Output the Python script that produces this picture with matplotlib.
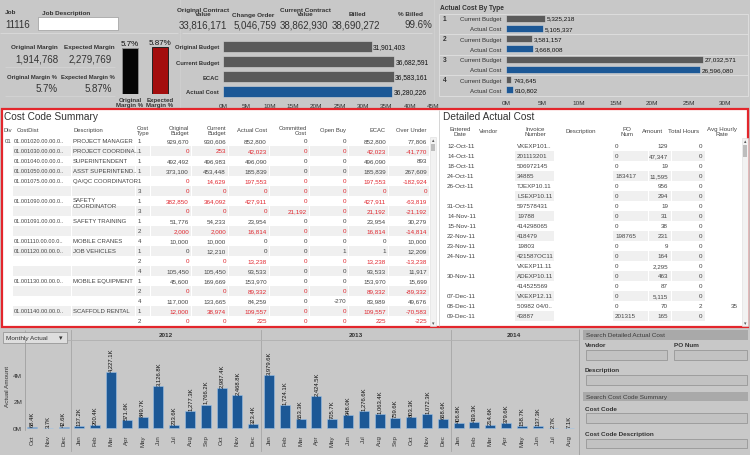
import matplotlib
matplotlib.use('Agg')
import matplotlib.pyplot as plt
from matplotlib.patches import Rectangle
from matplotlib.transforms import blended_transform_factory

plt.rcParams['font.family'] = ['Liberation Sans', 'DejaVu Sans']

# ---------------- data ----------------
job_number = '11116'
margin_headers = ['Original Margin', 'Expected Margin']
margin_values = [1914768, 2279769]
margin_pct_headers = ['Original Margin %', 'Expected Margin %']
margin_pct = [5.7, 5.87]
margin_bar_labels = ['Original\nMargin %', 'Expected\nMargin %']

kpi_headers = ['Original Contract\nValue', 'Change Order', 'Current Contract\nValue', 'Billed', '% Billed']
kpi_values = ['33,816,171', '5,046,759', '38,862,930', '38,690,272', '99.6%']

budget_categories = ['Original Budget', 'Current Budget', 'ECAC', 'Actual Cost']
budget_values = [31901403, 36682591, 36583161, 36280226]

cost_types = ['1', '2', '3', '4']
type_current_budget = [5325218, 3581157, 27032571, 743645]
type_actual_cost = [5105337, 3668008, 26596080, 910802]

cc_headers = ['Div', 'CostDist', 'Description', 'Cost\nType', 'Original\nBudget', 'Current\nBudget',
              'Actual Cost', 'Committed\nCost', 'Open Buy', 'ECAC', 'Over Under']
cc_div = ['01', '', '', '', '', '', '', '', '', '', '', '', '', '', '', '', '', '', '']
cc_costdist = ['01.001020.00.00.0..', '01.001030.00.00.0..', '01.001040.00.00.0..', '01.001050.00.00.0..',
               '01.001075.00.00.0..', '', '01.001090.00.00.0..', '', '01.001091.00.00.0..', '',
               '01.001110.00.00.0..', '01.001120.00.00.0..', '', '', '01.001130.00.00.0..', '', '',
               '01.001140.00.00.0..', '']
cc_description = ['PROJECT MANAGER', 'PROJECT COORDINA..', 'SUPERINTENDENT', 'ASST SUPERINTEND..',
                  'QA/QC COORDINATOR', '', 'SAFETY\nCOORDINATOR', '', 'SAFETY TRAINING', '',
                  'MOBILE CRANES', 'JOB VEHICLES', '', '', 'MOBILE EQUIPMENT', '', '',
                  'SCAFFOLD RENTAL', '']
cc_type = [1, 1, 1, 1, 1, 3, 1, 3, 1, 2, 4, 1, 2, 4, 1, 2, 4, 1, 2]
cc_original = [929670, 0, 492492, 373100, 0, 0, 382850, 0, 51776, 2000, 10000, 0, 0, 105450, 45600, 0, 117000, 12000, 0]
cc_current = [930606, 253, 496983, 453448, 14629, 0, 364092, 0, 54233, 2000, 10000, 12210, 0, 105450, 169669, 0, 133665, 38974, 0]
cc_actual = [852800, 42023, 496090, 185839, 197553, 0, 427911, 0, 23954, 16814, 0, 0, 13238, 93533, 153970, 89332, 84259, 109557, 225]
cc_committed = [0, 0, 0, 0, 0, 0, 0, 21192, 0, 0, 0, 0, 0, 0, 0, 0, 0, 0, 0]
cc_open_buy = [0, 0, 0, 0, 0, 0, 0, 0, 0, 0, 0, 1, 0, 0, 0, 0, -270, 0, 0]
cc_ecac = [852800, 42023, 496090, 185839, 197553, 0, 427911, 21192, 23954, 16814, 0, 1, 13238, 93533, 153970, 89332, 83989, 109557, 225]
cc_over_under = [77806, -41770, 893, 267609, -182924, 0, -63819, -21192, 30279, -14814, 10000, 12209, -13238, 11917, 15699, -89332, 49676, -70583, -225]

dac_headers = ['Entered\nDate', 'Vendor', 'Invoice\nNumber', 'Description', 'PO\nNum', 'Amount', 'Total Hours', 'Avg Hourly\nRate']
dac_date = ['12-Oct-11', '14-Oct-11', '18-Oct-11', '24-Oct-11', '26-Oct-11', '', '31-Oct-11', '14-Nov-11',
            '15-Nov-11', '22-Nov-11', '23-Nov-11', '24-Nov-11', '', '30-Nov-11', '', '07-Dec-11', '08-Dec-11', '09-Dec-11']
dac_invoice = ['VKEXP101..', '201113201', '506972145', '34885', 'TJEXP10.11', 'LSEXP10.11', '597578431', '19788',
               '414298065', '418479', '19803', '421587OC11', 'VKEXP11.11', 'ADEXP10.11', '414525569', 'VKEXP12.11',
               '50982 04/0..', '43887']
dac_po = ['0', '0', '0', '183417', '0', '0', '0', '0', '0', '198765', '0', '0', '0', '0', '0', '0', '0', '201315']
dac_amount = [129, 47347, 19, 11595, 956, 294, 19, 31, 38, 231, 9, 164, 2295, 463, 87, 5115, 70, 165]
dac_hours = [0, 0, 0, 0, 0, 0, 0, 0, 0, 0, 0, 0, 0, 0, 0, 0, 2, 0]
dac_rate = ['', '', '', '', '', '', '', '', '', '', '', '', '', '', '', '', '35', '']

month_labels = ['Oct', 'Nov', 'Dec',
                'Jan', 'Feb', 'Mar', 'Apr', 'May', 'Jun', 'Jul', 'Aug', 'Sep', 'Oct', 'Nov', 'Dec',
                'Jan', 'Feb', 'Mar', 'Apr', 'May', 'Jun', 'Jul', 'Aug', 'Sep', 'Oct', 'Nov', 'Dec',
                'Jan', 'Feb', 'Mar', 'Apr', 'May', 'Jun', 'Jul', 'Aug']
month_years = ['2011', '2011', '2011',
               '2012', '2012', '2012', '2012', '2012', '2012', '2012', '2012', '2012', '2012', '2012', '2012',
               '2013', '2013', '2013', '2013', '2013', '2013', '2013', '2013', '2013', '2013', '2013', '2013',
               '2014', '2014', '2014', '2014', '2014', '2014', '2014', '2014']
shown_year_headers = ['2012', '2013', '2014']   # the 2011 header is hidden behind the dropdown
monthly_actual_k = [68.4, 3.7, 42.6,
                    137.2, 200.4, 4227.1, 571.6, 849.7, 3126.8, 233.6, 1277.3, 1766.2, 2987.4, 2468.8, 323.4,
                    3979.6, 1724.1, 653.3, 2424.5, 705.7, 948.0, 1276.6, 1063.4, 759.6, 803.3, 1072.3, 668.6,
                    406.8, 439.3, 214.6, 379.6, 158.7, 137.3, 2.7, 7.1]

# ---------------- style ----------------
W, H = 750, 456
BG = '#c8c8c8'
BAR_GRAY = '#5a5a5a'
BLUE = '#1c5896'
RED_TXT = '#e0262e'
TXT = '#333333'
CELL = '#444444'
SHADE = '#f0f0f0'

fig = plt.figure(figsize=(7.5, 4.56), dpi=100)
fig.patch.set_facecolor(BG)
bg = fig.add_axes([0, 0, 1, 1])
bg.set_xlim(0, W)
bg.set_ylim(H, 0)
bg.axis('off')


def T(x, y, s, size=5, ha='left', va='center', color=TXT, weight='normal', z=5, **kw):
    bg.text(x, y, s, fontsize=size, ha=ha, va=va, color=color, fontweight=weight, zorder=z, **kw)


def R(x0, y0, x1, y1, fc, ec='none', lw=0.6, z=1):
    bg.add_patch(Rectangle((x0, y0), x1 - x0, y1 - y0, facecolor=fc, edgecolor=ec, linewidth=lw, zorder=z))


def L(x0, y0, x1, y1, c='#b4b4b4', lw=0.6, z=2):
    bg.plot([x0, x1], [y0, y1], color=c, lw=lw, zorder=z, solid_capstyle='butt')


def px_axes(x0, y0, x1, y1):
    ax = fig.add_axes([x0 / W, 1 - y1 / H, (x1 - x0) / W, (y1 - y0) / H])
    ax.patch.set_alpha(0)
    return ax


# ---------------- top-left: job & margins ----------------
T(5, 13, 'Job', 4.6, weight='bold')
T(42, 13, 'Job Description', 4.6, weight='bold')
T(5, 24.5, job_number, 7)
R(38, 18, 118, 31, 'white', ec='#9a9a9a', lw=0.5)
L(0, 33.5, 178, 33.5, '#dadada')
L(5, 68, 115, 68, '#d6d6d6', 0.5)
L(5, 97, 115, 97, '#d6d6d6', 0.5)

for x, h in zip([34, 89], margin_headers):
    T(x, 48, h, 4.6, ha='center', weight='bold')
for x, v in zip([58, 112], margin_values):
    T(x, 60, f'{v:,}', 7, ha='right')
for x, h in zip([32, 88], margin_pct_headers):
    T(x, 77, h, 4.2, ha='center', weight='bold')
for x, v in zip([58, 112], margin_pct):
    T(x, 89, f'{v}%', 7, ha='right')

axm = px_axes(115, 47, 175, 95)
axm.bar([0, 1], margin_pct, width=0.53, color=['#050505', '#a30d0d'],
        edgecolor=['#8a8a8a', '#222222'], linewidth=0.7)
axm.set_xlim(-0.5, 1.5)
axm.set_ylim(0, 6.0)
axm.axis('off')
for i, v in enumerate(margin_pct):
    axm.text(i, v + 0.12, f'{v}%', ha='center', va='bottom', fontsize=5.8, color='#111')
for x, s in zip([130, 160], margin_bar_labels):
    T(x, 98, s, 4.4, ha='center', va='top', weight='bold', linespacing=1.0)

# ---------------- top-middle: KPIs & budget bars ----------------
L(180, 0, 180, 108, '#d2d2d2', 0.5)
L(434, 0, 434, 108, '#d2d2d2', 0.5)
for x, h in zip([203, 253, 305, 357, 410], kpi_headers):
    T(x, 17.5, h, 4.6, ha='center', va='bottom', weight='bold', linespacing=0.95)
for x, v in zip([227, 277, 328, 380, 432], kpi_values):
    T(x, 25.5, v, 7, ha='right')
L(182, 34, 432, 34, '#dadada')

axb = px_axes(223, 40, 433, 100)
ypos = list(range(len(budget_categories)))
axb.barh(ypos, budget_values, height=0.67,
         color=[BAR_GRAY, BAR_GRAY, BAR_GRAY, BLUE], edgecolor='#d8d8d8', linewidth=0.4)
axb.set_xlim(0, 45e6)
axb.set_ylim(3.5, -0.5)
axb.set_yticks(ypos)
axb.set_yticklabels(budget_categories, fontsize=4.2, fontweight='bold', color=TXT)
axb.set_xticks([i * 5e6 for i in range(10)])
axb.set_xticklabels([f'{i * 5}M' for i in range(10)], fontsize=4.6, color=TXT)
axb.tick_params(length=0, pad=3)
for s in axb.spines.values():
    s.set_visible(False)
for y, v in zip(ypos, budget_values):
    axb.text(v + 0.3e6, y, f'{v:,}', va='center', ha='left', fontsize=4.8, color='#111')

# ---------------- top-right: actual cost by type ----------------
T(440, 9, 'Actual Cost By Type', 4.8, weight='bold')
R(439, 15, 748, 97, 'none', ec='#e0e0e0', lw=0.6, z=2)
for y in [35, 56, 76]:
    L(439, y, 748, y, '#e0e0e0', 0.6)
axt = px_axes(506, 14, 725, 96)
type_vals = []
type_cols = []
type_lbls = []
for cb, ac in zip(type_current_budget, type_actual_cost):
    type_vals += [cb, ac]
    type_cols += [BAR_GRAY, BLUE]
    type_lbls += ['Current Budget', 'Actual Cost']
tpos = list(range(len(type_vals)))
axt.barh(tpos, type_vals, height=0.68, color=type_cols, edgecolor='#d8d8d8', linewidth=0.4)
axt.set_xlim(0, 30e6)
axt.set_ylim(7.5, -0.5)
axt.set_yticks(tpos)
axt.set_yticklabels(type_lbls, fontsize=4.4, color=TXT)
axt.set_xticks([i * 5e6 for i in range(7)])
axt.set_xticklabels([f'{i * 5}M' for i in range(7)], fontsize=4.6, color=TXT)
axt.tick_params(length=0, pad=3.5)
axt.tick_params(axis='y', pad=3)
for s in axt.spines.values():
    s.set_visible(False)
for y, v in zip(tpos, type_vals):
    axt.text(v + 0.25e6, y, f'{v:,}', va='center', ha='left', fontsize=4.6, color='#111')
for g, lab in enumerate(cost_types):
    T(443, 19.1 + 2 * g * 10.25, lab, 4.8, weight='bold')

# ---------------- tables panel ----------------
R(2, 110, 748, 328, 'white', ec='#e3262c', lw=1.6, z=1)
L(438.5, 111, 438.5, 327, '#cfcfcf', 0.6)

# Cost code summary
T(4, 117, 'Cost Code Summary', 7.3, color='#333')
cc_cols = [(5, 'left'), (14, 'left'), (73, 'left'), (138, 'left'), (189, 'right'), (226, 'right'),
           (267, 'right'), (307, 'right'), (346, 'right'), (386, 'right'), (427, 'right')]
cc_head_x = [4, 17, 73, 137, 189, 226, 267, 307, 346, 386, 427]
cc_spans = [(13, 71), (72, 135), (136, 150), (151, 191), (192, 228), (229, 269), (270, 309),
            (310, 348), (349, 388), (389, 429)]
for hx, (x, ha), h in zip(cc_head_x, cc_cols, cc_headers):
    T(hx, 131, h, 4.2, ha=ha, color='#444', linespacing=0.95)
row_y0 = 142
for i in range(len(cc_type)):
    y = row_y0 + 10 * i
    if i % 2 == 1:
        for a, b in cc_spans:
            R(a, y - 5, b, y + 5, SHADE, z=1.5)
    red = cc_over_under[i] <= 0
    col = RED_TXT if red else CELL
    T(cc_cols[0][0], y, cc_div[i], 4.4, color=CELL)
    T(cc_cols[1][0], y, cc_costdist[i], 4.1, color=CELL)
    if cc_description[i]:
        two = '\n' in cc_description[i]
        T(cc_cols[2][0], y - 3.5 if two else y, cc_description[i], 4.3,
          color=CELL, va='top' if two else 'center', linespacing=1.1)
    T(cc_cols[3][0], y, str(cc_type[i]), 4.4, color=CELL)
    vals = [cc_original[i], cc_current[i], cc_actual[i], cc_committed[i], cc_open_buy[i], cc_ecac[i], cc_over_under[i]]
    for (x, ha), v in zip(cc_cols[4:], vals):
        T(x, y, f'{v:,}', 4.5, ha=ha, color=col)

# scrollbar left table
R(430, 138, 436, 327, '#f2f2f2', ec='#dddddd', lw=0.4, z=2)
R(430.8, 145, 435.2, 152, '#bdbdbd', z=3)
T(433, 141, '▴', 3.5, ha='center', color='#555', family='DejaVu Sans')
T(433, 324, '▾', 3.5, ha='center', color='#555', family='DejaVu Sans')

# Detailed actual cost
T(443, 117, 'Detailed Actual Cost', 7.3, color='#333')
for x, h in zip([460, 489, 535, 581, 627, 653, 684, 722], dac_headers):
    T(x, 132, h, 4.4, ha='center', color='#444', linespacing=0.95)
dac_spans = [(515, 554), (613, 648), (649, 671), (672, 705)]
for i in range(len(dac_invoice)):
    y = 147 + 10 * i
    if i % 2 == 1:
        for a, b in dac_spans:
            R(a, y - 5, b, y + 5, SHADE, z=1.5)
    T(447, y, dac_date[i], 4.5, color=CELL)
    T(517, y, dac_invoice[i], 4.5, color=CELL)
    T(615, y, dac_po[i], 4.5, color=CELL)
    T(668, y, f'{dac_amount[i]:,}', 4.5, ha='right', color=CELL)
    T(702, y, str(dac_hours[i]), 4.5, ha='right', color=CELL)
    T(738, y, dac_rate[i], 4.5, ha='right', color=CELL)
R(742, 139, 748, 327, '#f2f2f2', ec='#dddddd', lw=0.4, z=2)
R(742.8, 146, 747.2, 158, '#bdbdbd', z=3)
T(745, 142, '▴', 3.5, ha='center', color='#555', family='DejaVu Sans')
T(745, 324, '▾', 3.5, ha='center', color='#555', family='DejaVu Sans')

# ---------------- bottom: monthly actual ----------------
axc = px_axes(25, 340, 578, 431)
xs = list(range(len(monthly_actual_k)))
axc.bar(xs, monthly_actual_k, width=0.63, color=BLUE, edgecolor='#9fc3e6', linewidth=0.4)
axc.set_xlim(-0.443, 34.56)
axc.set_ylim(-150, 6692)
axc.set_yticks([0, 2000, 4000])
axc.set_yticklabels(['0M', '2M', '4M'], fontsize=4.6, color=TXT)
axc.set_xticks(xs)
axc.set_xticklabels(month_labels, rotation=90, fontsize=4.4, color=TXT)
axc.tick_params(length=0, pad=3)
axc.tick_params(axis='y', pad=2)
for k, s in axc.spines.items():
    s.set_visible(k == 'left')
axc.spines['left'].set_color('#a0a0a0')
axc.spines['left'].set_linewidth(0.6)
for x, v in zip(xs, monthly_actual_k):
    axc.text(x, v + 80, f'{v:,.1f}K', rotation=90, ha='center', va='bottom', fontsize=4.2, color='#111')

tr = blended_transform_factory(axc.transData, bg.transData)
year_bounds = []
for i in range(1, len(month_years)):
    if month_years[i] != month_years[i - 1]:
        year_bounds.append(i - 0.5)
for xb in year_bounds:
    bg.plot([xb, xb], [331, 452], color='#a6a6a6', lw=0.6, transform=tr, zorder=2)
L(25, 331, 25, 340, '#a6a6a6', 0.6)
L(25, 340.5, 578, 340.5, '#b0b0b0', 0.6)
for yv in shown_year_headers:
    idx = [i for i, m in enumerate(month_years) if m == yv]
    cx = (idx[0] + idx[-1]) / 2
    bg.text(cx, 336, yv, transform=tr, fontsize=4.6, fontweight='bold', ha='center', va='center',
            color=TXT, zorder=4)
T(8, 386, 'Actual Amount', 4.6, ha='center', rotation=90)

R(3, 333, 67, 344, '#dedede', ec='#8c8c8c', lw=0.5, z=6)
T(6, 338.5, 'Monthly Actual', 4.6, z=7)
T(61, 338.5, '▾', 5, ha='center', family='DejaVu Sans', z=7)

# ---------------- bottom-right: search panel ----------------
L(579, 330, 579, 456, '#a4a4a4', 0.7)
R(583, 331, 748, 341, '#a9a9a9', z=2)
T(586, 336, 'Search Detailed Actual Cost', 4.6, color='#3a3a3a')
T(585, 345.5, 'Vendor', 4.6, weight='bold')
T(674, 345.5, 'PO Num', 4.6, weight='bold')
R(586, 351, 667, 361, '#c2c2c2', ec='#8e8e8e', lw=0.5, z=2)
R(674, 351, 747, 361, '#c2c2c2', ec='#8e8e8e', lw=0.5, z=2)
T(585, 371, 'Description', 4.6, weight='bold')
R(586, 376, 747, 386, '#c2c2c2', ec='#8e8e8e', lw=0.5, z=2)
R(583, 393, 748, 402, '#a9a9a9', z=2)
T(586, 397.5, 'Search Cost Code Summary', 4.6, color='#3a3a3a')
T(585, 410, 'Cost Code', 4.6, weight='bold')
R(586, 414, 747, 424, '#c2c2c2', ec='#8e8e8e', lw=0.5, z=2)
T(585, 435, 'Cost Code Description', 4.6, weight='bold')
R(586, 440, 747, 449, '#c2c2c2', ec='#8e8e8e', lw=0.5, z=2)

fig.savefig('out.png', dpi=100, facecolor=BG)
